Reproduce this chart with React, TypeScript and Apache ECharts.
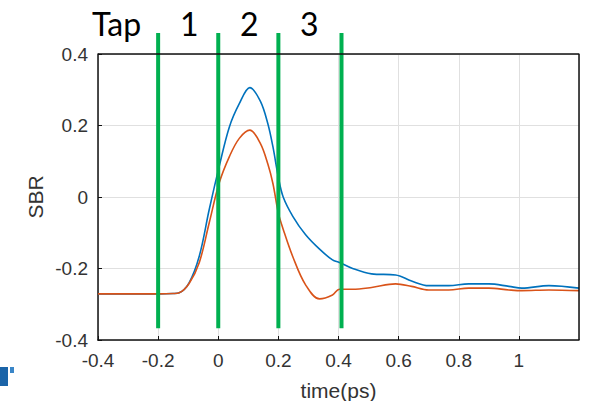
import React, { useEffect, useRef } from "react";
import * as echarts from "echarts";

// Sample times (ps) shared by both traces
const timePs = [
  -0.4, -0.3, -0.2, -0.15, -0.13, -0.097, -0.063, -0.03, 0.003, 0.037, 0.07,
  0.105, 0.14, 0.165, 0.182, 0.2, 0.216, 0.248, 0.29, 0.337, 0.38, 0.403,
  0.447, 0.51, 0.59, 0.643, 0.7, 0.767, 0.833, 0.9, 0.967, 1.01, 1.1, 1.2,
];

// SBR trace drawn in blue
const sbrBlue = [
  -0.271, -0.271, -0.271, -0.27, -0.268, -0.24, -0.165, -0.035, 0.085, 0.196,
  0.261, 0.306, 0.268, 0.205, 0.14, 0.055, 0.0, -0.054, -0.105, -0.146, -0.176,
  -0.183, -0.2, -0.215, -0.218, -0.235, -0.248, -0.248, -0.243, -0.243, -0.25,
  -0.255, -0.248, -0.255,
];

// SBR trace drawn in orange
const sbrOrange = [
  -0.271, -0.271, -0.271, -0.27, -0.268, -0.242, -0.183, -0.072, 0.039, 0.113,
  0.164, 0.187, 0.15, 0.092, 0.037, -0.045, -0.09, -0.167, -0.245, -0.285,
  -0.274, -0.258, -0.258, -0.253, -0.243, -0.25, -0.26, -0.26, -0.255, -0.255,
  -0.26, -0.262, -0.26, -0.262,
];

// Tap boundaries (ps) and the vertical extent of the marker lines
const tapBounds = [-0.2, 0.0, 0.2, 0.41];
const tapLineSpan = [-0.367, 0.459];
const tapLabels = ["Tap", "1", "2", "3"];

const X_MIN = -0.4;
const X_MAX = 1.2;
const Y_MIN = -0.4;
const Y_MAX = 0.4;

// Corners of the axes box (top and right edges)
const boxEdge = [
  [X_MIN, Y_MAX],
  [X_MAX, Y_MAX],
  [X_MAX, Y_MIN],
];

const BOX = "#111111";
const TEXT = "#333333";
const GREEN = "#00b050";
const FONT = "'Liberation Sans', Arial, sans-serif";

export default function App() {
  const ref = useRef<HTMLDivElement>(null);

  useEffect(() => {
    if (!ref.current) return;
    const chart = echarts.init(ref.current, undefined, { renderer: "svg" });

    const axisLine = { show: true, onZero: false, lineStyle: { color: BOX, width: 1.5 } };
    const axisTick = { show: true, inside: true, length: 4, lineStyle: { color: BOX } };

    const series: any[] = [
      {
        type: "line",
        name: "blue",
        data: timePs.map((t, i) => [t, sbrBlue[i]]),
        showSymbol: false,
        smooth: 0.35,
        lineStyle: { color: "#0072bd", width: 1.6 },
        z: 3,
      },
      {
        type: "line",
        name: "orange",
        data: timePs.map((t, i) => [t, sbrOrange[i]]),
        showSymbol: false,
        smooth: 0.35,
        lineStyle: { color: "#d95319", width: 1.6 },
        z: 4,
      },
      ...tapBounds.map((t) => ({
        type: "line",
        data: tapLineSpan.map((v) => [t, v]),
        showSymbol: false,
        clip: false,
        lineStyle: { color: GREEN, width: 4 },
        z: 6,
      })),
      {
        type: "line",
        data: boxEdge,
        showSymbol: false,
        clip: false,
        silent: true,
        lineStyle: { color: BOX, width: 1.5 },
        z: 7,
      },
    ];

    const labelX = [92, 180, 240, 300];

    chart.setOption({
      animation: false,
      backgroundColor: "#ffffff",
      grid: {
        left: 98,
        right: 11,
        top: 54,
        bottom: 61,
        containLabel: false,
        outerBoundsMode: "none",
      },
      xAxis: {
        type: "value",
        min: X_MIN,
        max: X_MAX,
        interval: 0.2,
        axisLine,
        axisTick,
        name: "time(ps)",
        nameLocation: "middle",
        nameGap: 40,
        nameMoveOverlap: false,
        nameTextStyle: { color: TEXT, fontSize: 21, fontFamily: FONT },
        axisLabel: {
          showMaxLabel: false,
          margin: 11,
          color: TEXT,
          fontSize: 19,
          fontFamily: FONT,
        },
        splitLine: { show: true, lineStyle: { color: "#e0e0e0", width: 1 } },
      },
      yAxis: {
        type: "value",
        min: Y_MIN,
        max: Y_MAX,
        interval: 0.2,
        axisLine,
        axisTick,
        name: "SBR",
        nameLocation: "middle",
        nameGap: 52,
        nameMoveOverlap: false,
        nameTextStyle: { color: TEXT, fontSize: 21, fontFamily: FONT },
        axisLabel: {
          margin: 10,
          color: TEXT,
          fontSize: 19,
          fontFamily: FONT,
        },
        splitLine: { show: true, lineStyle: { color: "#e0e0e0", width: 1 } },
      },
      series,
      graphic: [
        ...tapLabels.map((s, i) => ({
          type: "text",
          id: "tap-" + i,
          left: labelX[i],
          top: 7,
          style: {
            text: s,
            fill: "#000000",
            font: "32px Lato, 'Open Sans', sans-serif",
          },
          z: 10,
        })),
        // cropped logo fragment in the lower-left corner
        {
          type: "rect",
          id: "logo-a",
          shape: { x: 0, y: 367, width: 8, height: 19 },
          style: { fill: "#1b64a8" },
          z: 10,
        },
        {
          type: "rect",
          id: "logo-b",
          shape: { x: 10, y: 367, width: 4, height: 6 },
          style: { fill: "#3a86c8" },
          z: 10,
        },
      ],
    });

    return () => chart.dispose();
  }, []);

  return (
    <div style={{ position: "fixed", left: 0, top: 0, width: 590, height: 401, background: "#fff" }}>
      <div ref={ref} style={{ width: 590, height: 401 }} />
    </div>
  );
}
